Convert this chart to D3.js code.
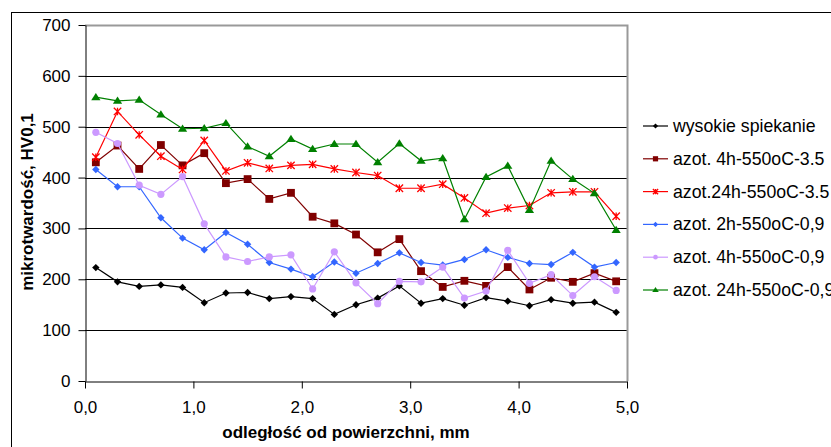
<!DOCTYPE html>
<html>
<head>
<meta charset="utf-8">
<script src="https://cdn.jsdelivr.net/npm/d3@7"></script>
<style>
  body { margin: 0; background: #fff; }
  text { font-family: "Liberation Sans", Arial, sans-serif; }
</style>
</head>
<body>
<div id="chart"></div>
<script>
// distance from surface, mm
const depth = [0.1, 0.3, 0.5, 0.7, 0.9, 1.1, 1.3, 1.5, 1.7, 1.9, 2.1, 2.3, 2.5,
  2.7, 2.9, 3.1, 3.3, 3.5, 3.7, 3.9, 4.1, 4.3, 4.5, 4.7, 4.9];

const wysokie = [223, 195, 186, 189, 184, 154, 173, 174, 162, 166, 162, 131, 150,
  163, 187, 153, 162, 149, 164, 157, 148, 160, 153, 155, 135];
const azot4h35 = [430, 463, 417, 464, 424, 448, 389, 397, 358, 370, 323, 310, 288,
  253, 279, 216, 185, 197, 187, 224, 180, 203, 195, 212, 196];
const azot24h35 = [440, 530, 484, 442, 416, 473, 413, 429, 418, 424, 426, 417, 410,
  404, 379, 379, 387, 360, 330, 340, 345, 370, 372, 372, 324];
const azot2h09 = [416, 382, 382, 321, 281, 258, 292, 269, 233, 220, 205, 234, 212,
  231, 252, 233, 228, 239, 258, 243, 231, 229, 253, 224, 233];
const azot4h09 = [489, 467, 385, 367, 402, 309, 244, 235, 244, 248, 181, 254, 193,
  152, 196, 195, 224, 163, 177, 257, 192, 209, 168, 205, 178];
const azot24h09 = [558, 551, 553, 524, 496, 497, 507, 461, 442, 476, 456, 466, 466,
  430, 467, 433, 438, 318, 401, 423, 336, 433, 397, 369, 297];

const seriesNames = ['wysokie spiekanie', 'azot. 4h-550oC-3.5', 'azot.24h-550oC-3.5',
  'azot. 2h-550oC-0,9', 'azot. 4h-550oC-0,9', 'azot. 24h-550oC-0,9'];
const yTicks = [0, 100, 200, 300, 400, 500, 600, 700];
const xTicks = [0, 1, 2, 3, 4, 5];

const series = [
  { name: seriesNames[0], values: wysokie, color: '#000000', marker: 'diamond' },
  { name: seriesNames[1], values: azot4h35, color: '#800000', marker: 'square' },
  { name: seriesNames[2], values: azot24h35, color: '#ff0000', marker: 'star' },
  { name: seriesNames[3], values: azot2h09, color: '#3366ff', marker: 'diamond' },
  { name: seriesNames[4], values: azot4h09, color: '#cc99ff', marker: 'circle' },
  { name: seriesNames[5], values: azot24h09, color: '#008000', marker: 'triangle' },
];

const W = 831, H = 447;
const plot = { left: 85, right: 627, top: 25, bottom: 381 };

const svg = d3.select('#chart').append('svg')
  .attr('width', W).attr('height', H);

// outer chart frame
svg.append('rect')
  .attr('x', 11.5).attr('y', 12.5)
  .attr('width', W).attr('height', H)
  .attr('fill', '#fff').attr('stroke', '#000').attr('stroke-width', 1);

const x = d3.scaleLinear().domain([0, 5]).range([plot.left, plot.right]);
const y = d3.scaleLinear().domain([0, 700]).range([plot.bottom, plot.top]);

// gridlines
svg.append('g')
  .selectAll('line')
  .data(yTicks.slice(1, -1))
  .enter()
  .append('line')
  .attr('x1', plot.left).attr('x2', plot.right)
  .attr('y1', (d) => Math.round(y(d)) + 0.5)
  .attr('y2', (d) => Math.round(y(d)) + 0.5)
  .attr('stroke', '#000').attr('stroke-width', 1);

// plot area border (grey top and right)
svg.append('path')
  .attr('d', 'M' + plot.left + ',' + (plot.top + 0.5) + 'H' + (plot.right + 0.5) +
    'V' + plot.bottom)
  .attr('fill', 'none').attr('stroke', '#999').attr('stroke-width', 2);

const comma = (d) => d3.format('.1f')(d).replace('.', ',');

const xAxis = svg.append('g')
  .attr('transform', 'translate(0,' + (plot.bottom + 0.5) + ')')
  .call(d3.axisBottom(x).tickValues(xTicks).tickFormat(comma)
    .tickSizeInner(7).tickSizeOuter(0).tickPadding(12));

const yAxis = svg.append('g')
  .attr('transform', 'translate(' + (plot.left + 0.5) + ',0)')
  .call(d3.axisLeft(y).tickValues(yTicks)
    .tickSizeInner(7).tickSizeOuter(0).tickPadding(8));

[xAxis, yAxis].forEach((a) => {
  a.selectAll('text').attr('font-size', 17).attr('fill', '#000')
    .attr('font-family', '"Liberation Sans", Arial, sans-serif');
  a.selectAll('line, path').attr('stroke', '#000');
});

// axis titles
svg.append('text')
  .attr('x', 346).attr('y', 438)
  .attr('text-anchor', 'middle')
  .attr('font-size', 17).attr('font-weight', 'bold')
  .text('odległość od powierzchni, mm');

svg.append('text')
  .attr('transform', 'translate(33,202) rotate(-90)')
  .attr('text-anchor', 'middle')
  .attr('font-size', 17).attr('font-weight', 'bold')
  .text('mikrotwardość, HV0,1');

function drawMarker(g, type, color, s) {
  if (type === 'diamond') {
    g.append('path').attr('d', 'M0,' + -s + 'L' + s + ',0L0,' + s + 'L' + -s + ',0Z')
      .attr('fill', color);
  } else if (type === 'square') {
    g.append('rect').attr('x', -s).attr('y', -s)
      .attr('width', 2 * s).attr('height', 2 * s).attr('fill', color);
  } else if (type === 'circle') {
    g.append('circle').attr('r', s * 0.9).attr('fill', color);
  } else if (type === 'triangle') {
    g.append('path')
      .attr('d', 'M0,' + (-s * 1.15) + 'L' + (s * 1.25) + ',' + (s * 0.8) +
        'L' + (-s * 1.25) + ',' + (s * 0.8) + 'Z')
      .attr('fill', color);
  } else if (type === 'star') {
    g.append('path')
      .attr('d', 'M' + -s + ',' + -s + 'L' + s + ',' + s + 'M' + s + ',' + -s +
        'L' + -s + ',' + s + 'M0,' + -s + 'L0,' + s)
      .attr('stroke', color).attr('stroke-width', 1.3).attr('fill', 'none');
  }
}

const line = d3.line()
  .x((d, i) => x(depth[i]))
  .y((d) => y(d));

series.forEach((s) => {
  const g = svg.append('g');
  g.append('path')
    .datum(s.values)
    .attr('d', line)
    .attr('fill', 'none')
    .attr('stroke', s.color)
    .attr('stroke-width', 1.2);
  const size = s.marker === 'circle' ? 4 : s.marker === 'square' ? 3.9 : 3.7;
  s.values.forEach((v, i) => {
    const m = g.append('g')
      .attr('transform', 'translate(' + x(depth[i]) + ',' + y(v) + ')');
    drawMarker(m, s.marker, s.color, size);
  });
});

// legend
const legend = svg.append('g');
series.forEach((s, i) => {
  const ly = 126 + i * 32.8;
  const row = legend.append('g').attr('transform', 'translate(643,' + ly + ')');
  row.append('line').attr('x1', 0).attr('x2', 25)
    .attr('y1', 0).attr('y2', 0)
    .attr('stroke', s.color).attr('stroke-width', 1.2);
  const m = row.append('g').attr('transform', 'translate(12.5,0)');
  drawMarker(m, s.marker, s.color, 2.6);
  row.append('text')
    .attr('x', 30).attr('y', 6)
    .attr('font-size', 17.7)
    .text(s.name);
});
</script>
</body>
</html>
